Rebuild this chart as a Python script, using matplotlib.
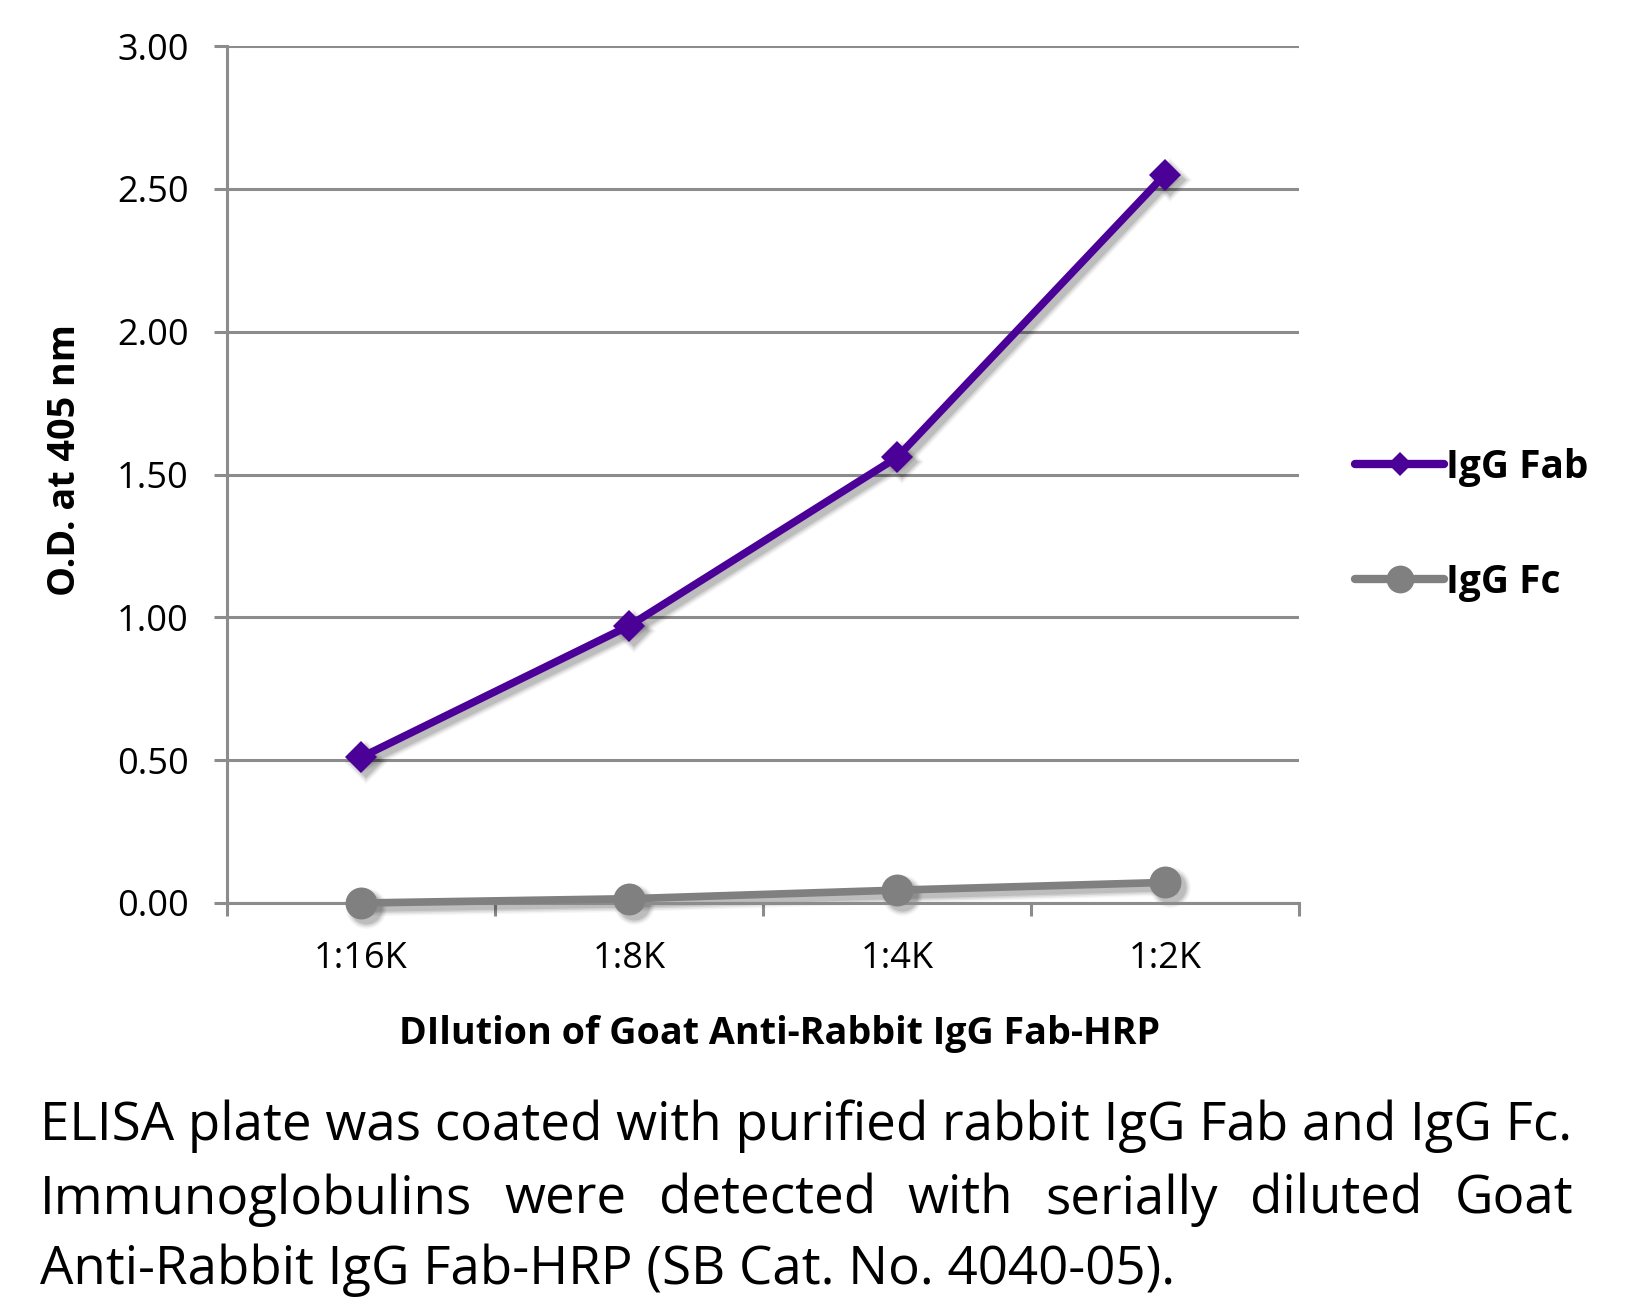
import numpy as np
import matplotlib
matplotlib.use("Agg")
import matplotlib.pyplot as plt
from matplotlib.lines import Line2D
from matplotlib.transforms import offset_copy

# data
dilutions = ['1:16K', '1:8K', '1:4K', '1:2K']
igg_fab = [0.51, 0.97, 1.56, 2.55]
igg_fc = [0.00, 0.015, 0.045, 0.072]
y_ticks = [0.0, 0.5, 1.0, 1.5, 2.0, 2.5, 3.0]
series_names = ['IgG Fab', 'IgG Fc']

caption_lines = [
    "ELISA plate was coated with purified rabbit IgG Fab and IgG Fc.",
    "Immunoglobulins were detected with serially diluted Goat",
    "Anti-Rabbit IgG Fab-HRP (SB Cat. No. 4040-05).",
]

plt.rcParams['font.family'] = ['Open Sans', 'DejaVu Sans']

PURPLE = '#4b0097'
GRAY = '#808080'
GRID = '#8c8c8c'

W, H = 1636, 1306
fig = plt.figure(figsize=(W / 100, H / 100), dpi=100)
ax = fig.add_axes([227 / W, 1 - 903 / H, (1299 - 227) / W, (903 - 46) / H])

x = np.arange(len(dilutions))


def draw_series(vals, color, marker, ms):
    # soft drop shadow, a few blurred layers
    for extra, a in [(9, 0.04), (6, 0.06), (3, 0.08), (0, 0.10)]:
        tr = offset_copy(ax.transData, fig=fig, x=5, y=-5, units='dots')
        ax.plot(x, vals, color='black', lw=5.5 + extra * 0.7, marker=marker,
                ms=ms + extra * 0.7, alpha=a, transform=tr, clip_on=False,
                zorder=2, markeredgewidth=0)
    ax.plot(x, vals, color=color, lw=5.5, marker=marker, ms=ms,
            markeredgewidth=0, clip_on=False, zorder=3)


draw_series(igg_fab, PURPLE, 'D', 16)
draw_series(igg_fc, GRAY, 'o', 23)

ax.set_xlim(-0.5, len(dilutions) - 0.5)
ax.set_ylim(0, 3)
ax.set_yticks(y_ticks)
ax.set_yticklabels([f'{v:.2f}' for v in y_ticks])
ax.yaxis.grid(True, color=GRID, lw=2.2)
ax.set_axisbelow(True)

ax.set_xticks(x)
ax.set_xticklabels(dilutions)
ax.set_xticks(np.arange(len(dilutions) + 1) - 0.5, minor=True)
ax.tick_params(axis='x', which='major', length=0, pad=27, labelsize=26)
ax.tick_params(axis='x', which='minor', length=9.5, width=2.2, color=GRID,
               direction='out')
ax.tick_params(axis='y', length=9.5, width=2.2, color=GRID, pad=18,
               labelsize=26)

for s in ['top', 'right']:
    ax.spines[s].set_visible(False)
for s in ['left', 'bottom']:
    ax.spines[s].set_color(GRID)
    ax.spines[s].set_linewidth(2.2)

renderer = fig.canvas.get_renderer()


def fit_width(t, target, vertical=False):
    bb = t.get_window_extent(renderer)
    w = bb.height if vertical else bb.width
    t.set_fontsize(t.get_fontsize() * target / w)


ylab = fig.text(65 / W, 1 - 460 / H, 'O.D. at 405 nm', rotation=90,
                fontweight='bold', fontsize=24, ha='center', va='center')
fit_width(ylab, 272, vertical=True)
xlab = fig.text(780 / W, 1 - 1044 / H, 'DIlution of Goat Anti-Rabbit IgG Fab-HRP',
                fontweight='bold', fontsize=24, ha='center', va='baseline')
fit_width(xlab, 761)

# legend
handles = [
    Line2D([], [], color=PURPLE, lw=6, marker='D', ms=12, markeredgewidth=0,
           solid_capstyle='round'),
    Line2D([], [], color=GRAY, lw=6, marker='o', ms=20, markeredgewidth=0,
           solid_capstyle='round'),
]
leg = fig.legend(handles, series_names, loc='center left',
                 bbox_to_anchor=(1355 / W, 1 - 525 / H), frameon=False,
                 handlelength=2.3, handletextpad=0.05, labelspacing=1.95,
                 borderpad=0, borderaxespad=0,
                 prop={'weight': 'bold', 'size': 28})

# caption, justified like the original
left_px, right_px = 40, 1573
baselines = [1140, 1214, 1284]
line1 = fig.text(left_px / W, 1 - baselines[0] / H, caption_lines[0],
                 fontsize=42, ha='left', va='baseline')
fit_width(line1, right_px - left_px)
cap_size = line1.get_fontsize()

words = caption_lines[1].split()
word_texts = [fig.text(0, 1 - baselines[1] / H, w, fontsize=cap_size,
                       ha='left', va='baseline') for w in words]
widths = [t.get_window_extent(renderer).width for t in word_texts]
gap = ((right_px - left_px) - sum(widths)) / (len(words) - 1)
pos = left_px
for t, w in zip(word_texts, widths):
    t.set_x(pos / W)
    pos += w + gap

fig.text(left_px / W, 1 - baselines[2] / H, caption_lines[2],
         fontsize=cap_size, ha='left', va='baseline')

fig.savefig('out.png', dpi=100, facecolor='white')
